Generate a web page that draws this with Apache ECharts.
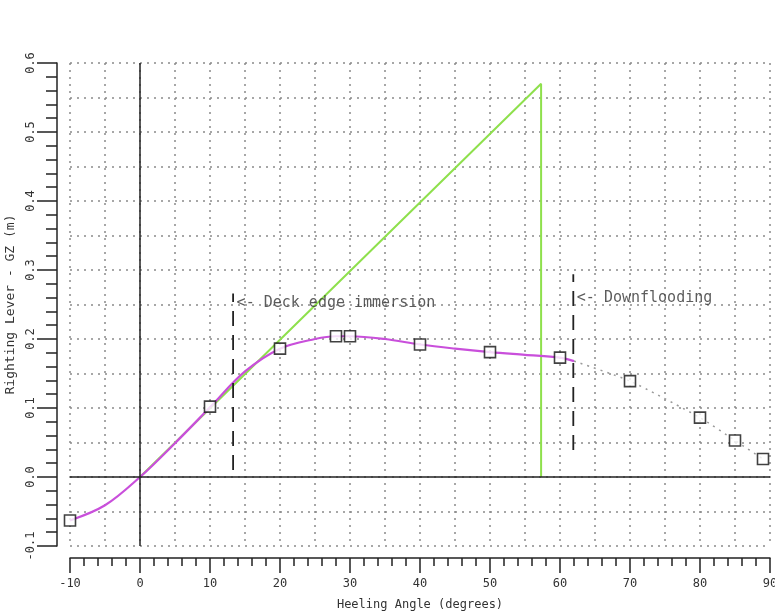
<!DOCTYPE html>
<html><head><meta charset="utf-8">
<script src="https://cdn.jsdelivr.net/npm/echarts@6/dist/echarts.min.js"></script>
<style>html,body{margin:0;padding:0;background:#fff}#c{width:775px;height:614px}</style>
</head><body><div id="c"></div>
<script>
// GZ data points (squares)
const heelAngles = [-10, 10, 20, 28, 30, 40, 50, 60, 70, 80, 85, 89];
const gzValues   = [-0.063, 0.102, 0.186, 0.204, 0.204, 0.192, 0.181, 0.173, 0.139, 0.086, 0.053, 0.026];
// Smooth GZ curve up to downflooding
const curveAngles = [-10, -5, 0, 5, 10, 15, 20, 25, 28, 30, 35, 40, 45, 50, 55, 60, 62];
const curveGz     = [-0.063, -0.041, 0, 0.049, 0.101, 0.153, 0.186, 0.200, 0.204, 0.204, 0.200, 0.192, 0.186, 0.181, 0.177, 0.173, 0.168];
// Beyond downflooding (dotted)
const extrapAngles = [62, 70, 80, 85, 89];
const extrapGz     = [0.168, 0.139, 0.086, 0.053, 0.026];
// GM line
const gmAngles = [0, 57.3, 57.3];
const gmGz     = [0, 0.57, 0];
// Annotations
const deckEdgeAngle = 13.3, deckEdgeFrom = 0.01, deckEdgeTo = 0.266, deckEdgeTextY = 0.252;
const deckEdgeText = '<- Deck edge immersion';
const downfloodAngle = 61.9, downfloodFrom = 0.039, downfloodTo = 0.294, downfloodTextY = 0.259;
const downfloodText = '<- Downflooding';

const FONT = 'DejaVu Sans Mono';
const zip = (a, b) => a.map((v, i) => [v, b[i]]);

const chart = echarts.init(document.getElementById('c'), null, {renderer: 'canvas'});
const gridLine = {show: true, lineStyle: {color: '#8a8a8a', type: [2, 5], width: 1.5}};
chart.setOption({
  animation: false,
  backgroundColor: '#fff',
  grid: {left: 70, right: 5, top: 63, bottom: 68, containLabel: false, outerBoundsMode: 'none'},
  xAxis: [{
    type: 'value', min: -10, max: 90, interval: 10, offset: 12,
    name: 'Heeling Angle (degrees)', nameLocation: 'middle', nameGap: 41,
    nameTextStyle: {fontFamily: FONT, fontSize: 12, color: '#333'},
    axisLine: {show: true, onZero: false, lineStyle: {color: '#222', width: 1.5}},
    axisTick: {show: true, length: 15, lineStyle: {color: '#222', width: 1.5}},
    minorTick: {show: true, splitNumber: 5, length: 8, lineStyle: {color: '#222', width: 1.5}},
    axisLabel: {margin: 20, fontFamily: FONT, fontSize: 12, color: '#333'},
    splitLine: {show: false}
  }, {
    type: 'value', min: -10, max: 90, interval: 5,
    axisLine: {show: false}, axisTick: {show: false}, axisLabel: {show: false},
    splitLine: gridLine
  }],
  yAxis: [{
    type: 'value', min: -0.1, max: 0.6, interval: 0.1, offset: 13,
    name: 'Righting Lever - GZ (m)', nameLocation: 'middle', nameGap: 38, nameRotate: 90,
    nameTextStyle: {fontFamily: FONT, fontSize: 13, color: '#333'},
    axisLine: {show: true, onZero: false, lineStyle: {color: '#222', width: 1.5}},
    axisTick: {show: true, length: 20, lineStyle: {color: '#222', width: 1.5}},
    minorTick: {show: true, splitNumber: 5, length: 11, lineStyle: {color: '#222', width: 1.5}},
    axisLabel: {rotate: 90, margin: 20, fontFamily: FONT, fontSize: 12, color: '#333',
      formatter: v => v.toFixed(1)},
    splitLine: {show: false}
  }, {
    type: 'value', min: -0.1, max: 0.6, interval: 0.05,
    axisLine: {show: false}, axisTick: {show: false}, axisLabel: {show: false},
    splitLine: gridLine
  }],
  series: [
    {
      type: 'line', data: [], silent: true,
      markLine: {
        symbol: 'none', silent: true, label: {show: false},
        lineStyle: {color: '#222', type: 'solid', width: 1.5},
        data: [{yAxis: 0}, {xAxis: 0}]
      }
    },
    {
      type: 'line', data: zip(gmAngles, gmGz), symbol: 'none', z: 3,
      lineStyle: {color: '#8ee04c', width: 2}
    },
    {
      type: 'line', data: zip(curveAngles, curveGz), symbol: 'none', smooth: 0.35, z: 4,
      lineStyle: {color: '#c94fdb', width: 2.2}
    },
    {
      type: 'line', data: zip(extrapAngles, extrapGz), symbol: 'none', smooth: 0.2, z: 4,
      lineStyle: {color: '#9a9a9a', width: 1.5, type: [2, 5]}
    },
    {
      type: 'line', data: [[deckEdgeAngle, deckEdgeFrom], [deckEdgeAngle, deckEdgeTo]], symbol: 'none', z: 5,
      lineStyle: {color: '#222', width: 1.8, type: [15, 9]}
    },
    {
      type: 'line', data: [[downfloodAngle, downfloodFrom], [downfloodAngle, downfloodTo]], symbol: 'none', z: 5,
      lineStyle: {color: '#222', width: 1.8, type: [15, 9]}
    },
    {
      type: 'scatter', symbol: 'circle', symbolSize: 1, z: 6, silent: true,
      itemStyle: {color: 'rgba(0,0,0,0)'},
      data: [[deckEdgeAngle, deckEdgeTextY, deckEdgeText], [downfloodAngle, downfloodTextY, downfloodText]],
      label: {show: true, position: 'right', distance: 3, formatter: p => p.data[2],
        fontFamily: FONT, fontSize: 15, color: '#333'}
    },
    {
      type: 'scatter', data: zip(heelAngles, gzValues), symbol: 'rect', symbolSize: 11, z: 7,
      itemStyle: {color: '#fff', borderColor: '#111', borderWidth: 1.6}
    }
  ]
});
</script></body></html>
